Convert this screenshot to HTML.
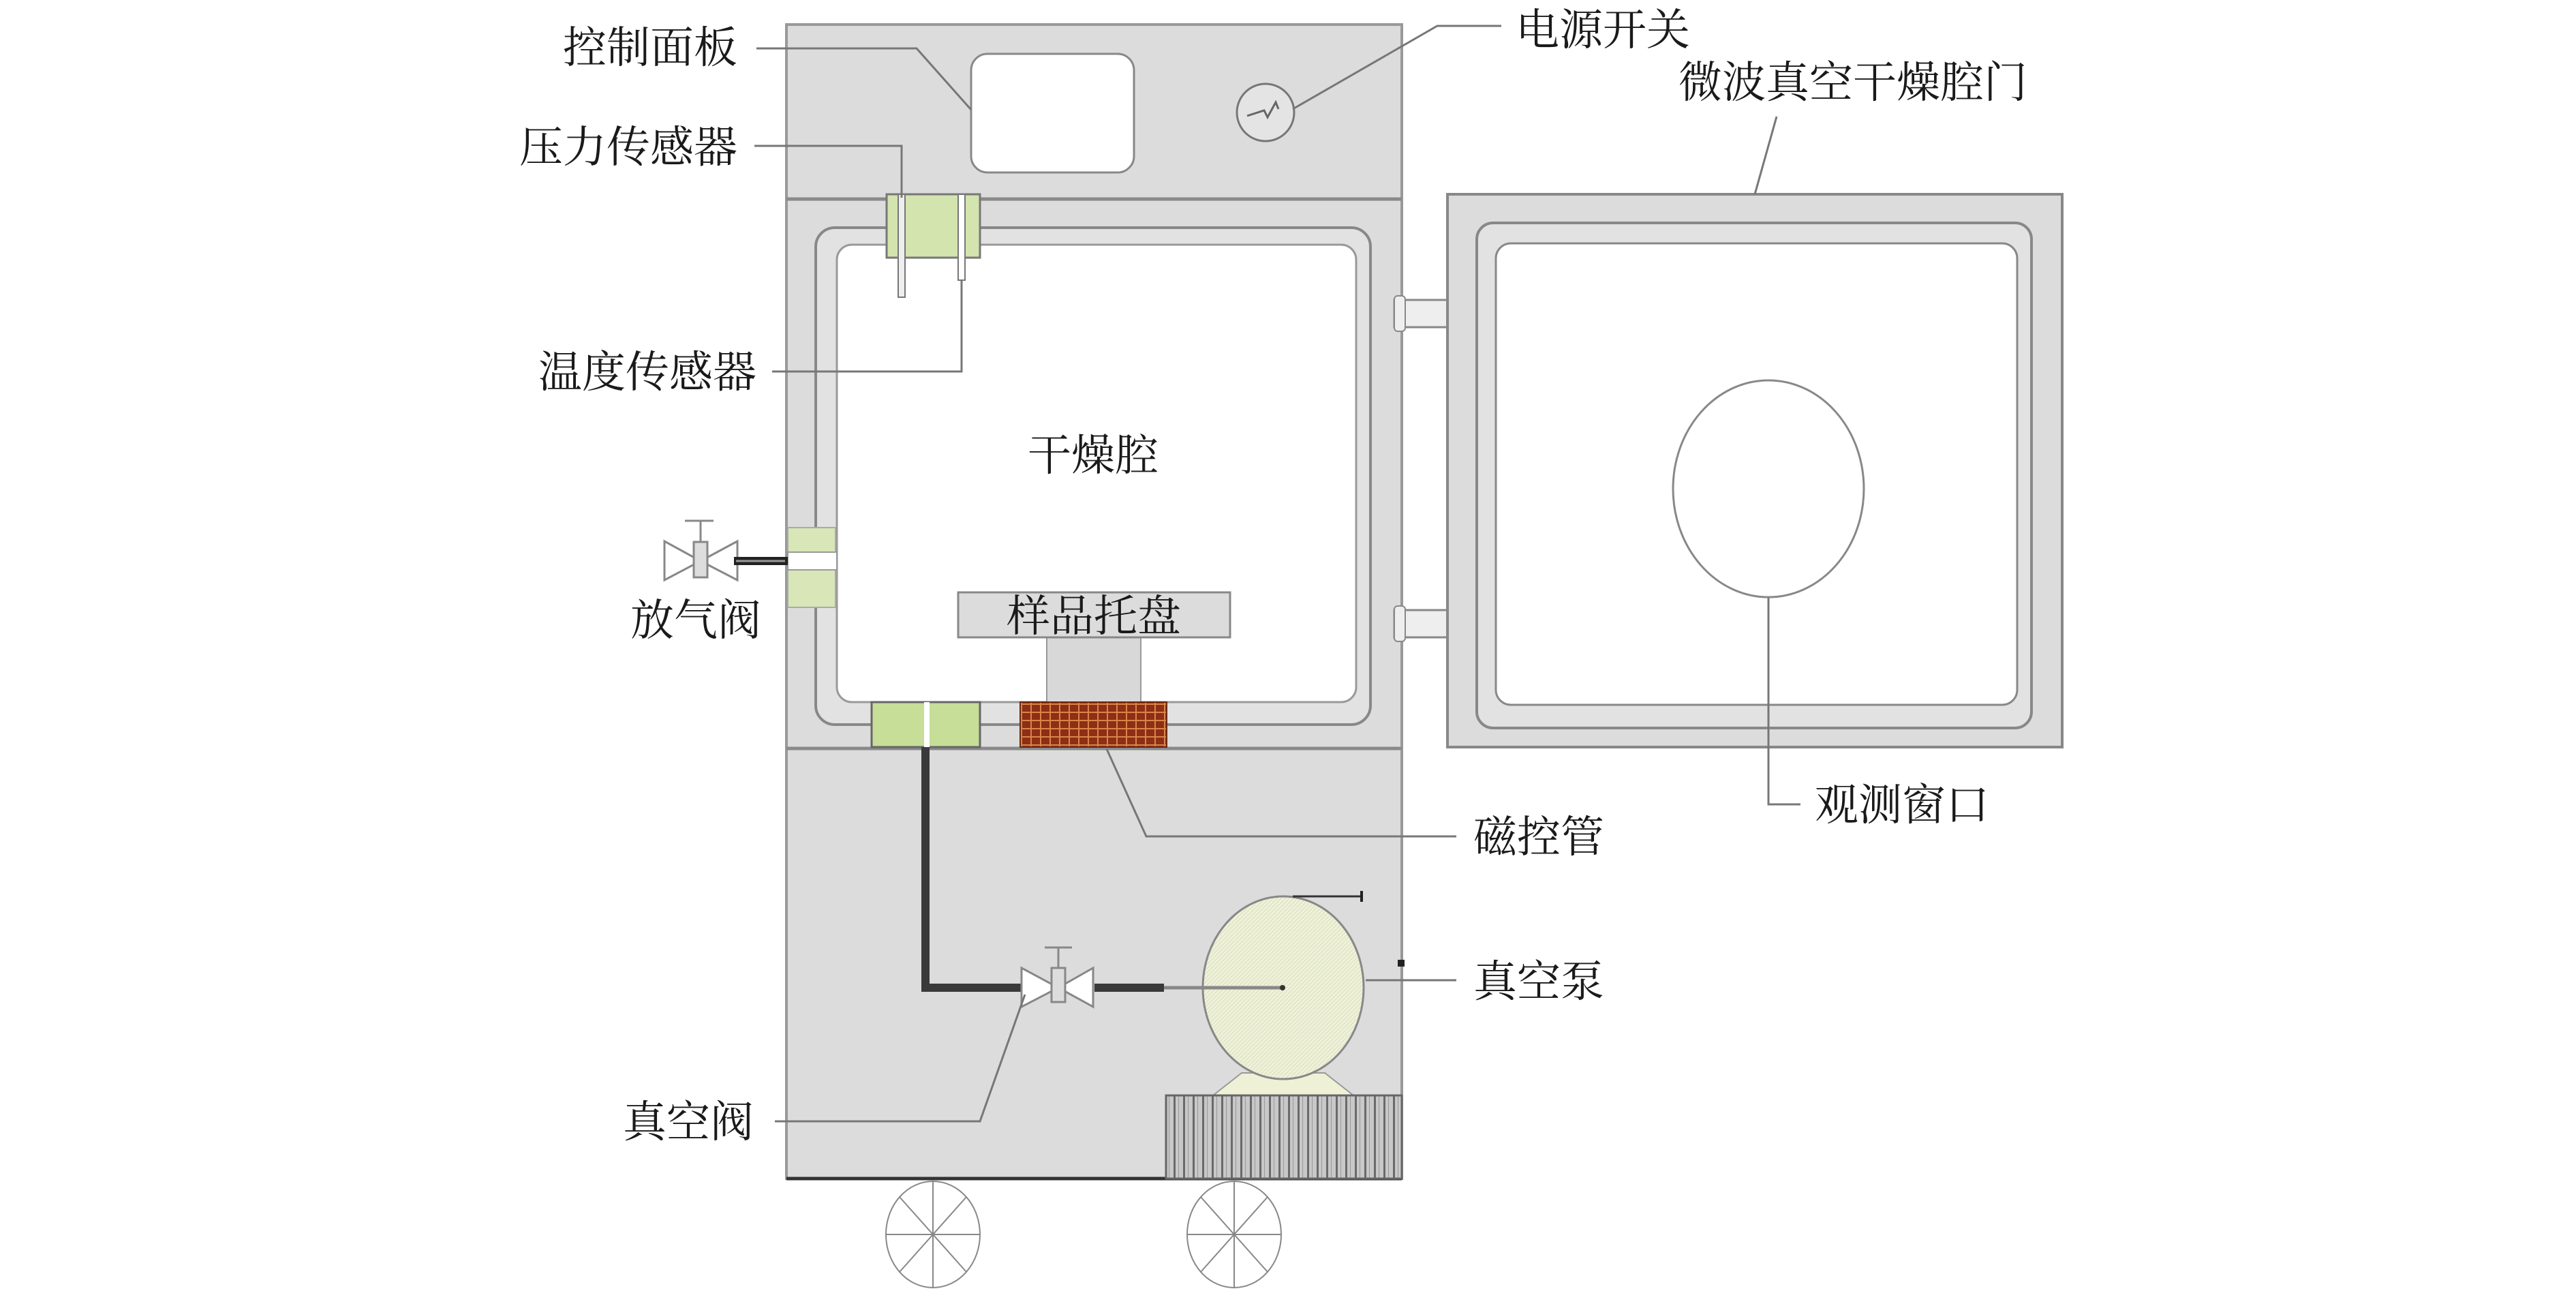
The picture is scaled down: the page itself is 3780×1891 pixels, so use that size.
<!DOCTYPE html>
<html><head><meta charset="utf-8"><style>
html,body{margin:0;padding:0;background:#fff}
svg{display:block}
text{font-family:"Liberation Serif","Noto Serif CJK SC",serif;font-size:64px;fill:#1a1a1a}
</style></head><body>
<svg width="3780" height="1891" viewBox="0 0 3780 1891" xmlns="http://www.w3.org/2000/svg">
<defs>
<pattern id="mag" width="14" height="12" patternUnits="userSpaceOnUse">
<rect width="14" height="12" fill="#8e2e14"/>
<rect x="0" y="0" width="2" height="12" fill="#d8844a"/>
<rect x="0" y="0" width="14" height="2" fill="#d8844a"/>
</pattern>
<pattern id="grille" width="14" height="10" patternUnits="userSpaceOnUse">
<rect width="14" height="10" fill="#c8c8c8"/>
<rect x="0" y="0" width="3" height="10" fill="#6a6a6a"/>
<rect x="7" y="0" width="1" height="10" fill="#999"/>
</pattern>
<pattern id="hatch" width="6" height="6" patternUnits="userSpaceOnUse">
<rect width="6" height="6" fill="#eff2d8"/>
<path d="M0 6L6 0" stroke="#d8dcc0" stroke-width="1"/>
</pattern>
</defs>

<rect x="1154" y="36" width="903" height="1693" fill="#dcdcdc" stroke="#999" stroke-width="4"/>
<line x1="1154" y1="292" x2="2057" y2="292" stroke="#8a8a8a" stroke-width="5"/>
<line x1="1154" y1="1098" x2="2057" y2="1098" stroke="#8a8a8a" stroke-width="5"/>
<line x1="1154" y1="1729" x2="2057" y2="1729" stroke="#333" stroke-width="5"/>
<rect x="1425" y="79" width="239" height="174" rx="24" fill="#fff" stroke="#888" stroke-width="3"/>
<circle cx="1857" cy="165" r="42" fill="#e4e4e4" stroke="#777" stroke-width="3"/>
<path d="M1830 170 L1855 162 L1860 172 L1872 150 L1876 160" fill="none" stroke="#666" stroke-width="3"/>
<rect x="1197" y="334" width="814" height="729" rx="28" fill="#e2e2e2" stroke="#888" stroke-width="4"/>
<rect x="1228" y="359" width="762" height="671" rx="22" fill="#fff" stroke="#999" stroke-width="3"/>
<rect x="1301" y="285" width="137" height="93" fill="#d3e4ae" stroke="#777" stroke-width="3"/>
<rect x="1318" y="285" width="10" height="151" fill="#eee" stroke="#777" stroke-width="2"/>
<rect x="1406" y="285" width="10" height="126" fill="#fff" stroke="#777" stroke-width="2"/>
<rect x="1156" y="774" width="70" height="117" fill="#d8e6b8" stroke="#aaa" stroke-width="2"/>
<rect x="1156" y="810" width="72" height="26" fill="#fff" stroke="#999" stroke-width="2"/>
<rect x="1536" y="935" width="138" height="96" fill="#d8d8d8" stroke="#999" stroke-width="2"/>
<rect x="1406" y="869" width="399" height="66" fill="#dcdcdc" stroke="#888" stroke-width="3"/>
<text x="1605" y="926" text-anchor="middle">样品托盘</text>
<text x="1604" y="690" text-anchor="middle">干燥腔</text>
<rect x="1279" y="1030" width="159" height="66" fill="#c6de98" stroke="#666" stroke-width="3"/>
<rect x="1356" y="1030" width="8" height="66" fill="#fff"/>
<rect x="1497" y="1030" width="215" height="66" fill="url(#mag)" stroke="#6a2a10" stroke-width="2"/>
<path d="M1358 1096 L1358 1449 L1500 1449" fill="none" stroke="#3a3a3a" stroke-width="12"/>
<line x1="1606" y1="1449" x2="1708" y2="1449" stroke="#3a3a3a" stroke-width="12"/>
<g stroke="#888" stroke-width="3" fill="#fff">
<path d="M1499 1420 L1553 1449 L1499 1477 Z"/>
<path d="M1604 1420 L1553 1449 L1604 1477 Z"/>
<rect x="1543" y="1420" width="20" height="50" fill="#ddd"/>
<line x1="1553" y1="1420" x2="1553" y2="1390"/>
<line x1="1533" y1="1390" x2="1573" y2="1390"/>
</g>
<path d="M1780 1607 L1822 1574 L1944 1574 L1986 1607 Z" fill="#eef1d6" stroke="#999" stroke-width="2"/>
<ellipse cx="1883" cy="1449" rx="118" ry="134" fill="url(#hatch)" stroke="#888" stroke-width="3"/>
<line x1="1708" y1="1449" x2="1882" y2="1449" stroke="#888" stroke-width="5"/>
<circle cx="1882" cy="1449" r="4" fill="#333"/>
<line x1="1897" y1="1315" x2="1998" y2="1315" stroke="#333" stroke-width="3"/>
<line x1="1998" y1="1307" x2="1998" y2="1323" stroke="#222" stroke-width="4"/>
<rect x="2051" y="1408" width="10" height="10" fill="#222"/>
<rect x="1711" y="1607" width="346" height="122" fill="url(#grille)" stroke="#666" stroke-width="3"/>
<g stroke="#888" stroke-width="2" fill="none">
<ellipse cx="1369" cy="1811" rx="69" ry="78"/>
<line x1="1300" y1="1811" x2="1438" y2="1811"/><line x1="1369" y1="1733" x2="1369" y2="1889"/>
<line x1="1320" y1="1756" x2="1418" y2="1866"/><line x1="1418" y1="1756" x2="1320" y2="1866"/>
<ellipse cx="1811" cy="1811" rx="69" ry="78"/>
<line x1="1742" y1="1811" x2="1880" y2="1811"/><line x1="1811" y1="1733" x2="1811" y2="1889"/>
<line x1="1762" y1="1756" x2="1860" y2="1866"/><line x1="1860" y1="1756" x2="1762" y2="1866"/>
</g>
<g stroke="#888" stroke-width="3" fill="#fff">
<path d="M975 794 L1028 823 L975 851 Z"/>
<path d="M1082 794 L1028 823 L1082 851 Z"/>
<rect x="1018" y="795" width="20" height="52" fill="#ddd"/>
<line x1="1028" y1="795" x2="1028" y2="764"/>
<line x1="1005" y1="764" x2="1047" y2="764"/>
</g>
<line x1="1077" y1="823" x2="1156" y2="823" stroke="#222" stroke-width="12"/>
<line x1="1080" y1="823" x2="1152" y2="823" stroke="#999" stroke-width="3"/>

<rect x="2046" y="440" width="80" height="40" fill="#eee" stroke="#888" stroke-width="3"/>
<rect x="2046" y="434" width="16" height="52" rx="5" fill="#eee" stroke="#888" stroke-width="2"/>
<rect x="2046" y="895" width="80" height="40" fill="#eee" stroke="#888" stroke-width="3"/>
<rect x="2046" y="889" width="16" height="52" rx="5" fill="#eee" stroke="#888" stroke-width="2"/>
<rect x="2124" y="285" width="902" height="811" fill="#dcdcdc" stroke="#888" stroke-width="4"/>
<rect x="2167" y="327" width="814" height="741" rx="24" fill="#e2e2e2" stroke="#888" stroke-width="4"/>
<rect x="2195" y="357" width="765" height="677" rx="22" fill="#fff" stroke="#888" stroke-width="3"/>
<ellipse cx="2595" cy="717" rx="140" ry="159" fill="#fff" stroke="#888" stroke-width="3"/>

<g stroke="#777" stroke-width="3" fill="none">
<path d="M1110 71 L1345 71 L1425 161"/>
<path d="M1107 214 L1323 214 L1323 290"/>
<path d="M1133 545 L1411 545 L1411 411"/>
<path d="M2203 38 L2109 38 L1897 160"/>
<path d="M2607 171 L2575 285"/>
<path d="M2595 877 L2595 1180 L2642 1180"/>
<path d="M1624 1099 L1682 1227 L2137 1227"/>
<path d="M2004 1438 L2137 1438"/>
<path d="M1137 1645 L1438 1645 L1504 1459"/>
</g>

<text x="1082" y="92" text-anchor="end">控制面板</text>
<text x="1082" y="238" text-anchor="end">压力传感器</text>
<text x="1110" y="568" text-anchor="end">温度传感器</text>
<text x="1117" y="932" text-anchor="end">放气阀</text>
<text x="2224" y="66">电源开关</text>
<text x="2463" y="143">微波真空干燥腔门</text>
<text x="2663" y="1203">观测窗口</text>
<text x="2162" y="1250">磁控管</text>
<text x="2162" y="1462">真空泵</text>
<text x="1106" y="1668" text-anchor="end">真空阀</text>
</svg>
</body></html>
